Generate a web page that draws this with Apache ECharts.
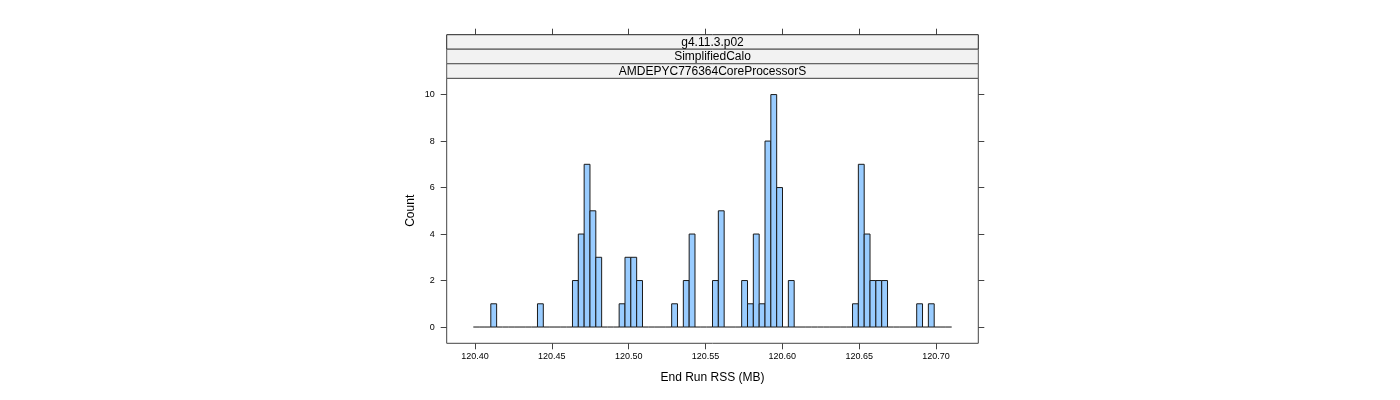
<!DOCTYPE html>
<html>
<head>
<meta charset="utf-8">
<script src="https://cdn.jsdelivr.net/npm/echarts@6/dist/echarts.min.js"></script>
<style>
html,body{margin:0;padding:0;background:#fff;}
#chart{width:1400px;height:400px;}
</style>
</head>
<body>
<div id="chart"></div>
<script>
// ---- data ----
const binOrigin = 120.39889;      // left edge of first bin
const binWidth = 0.0037966;       // width of each bin
const counts = [
  0,0,0,1,0,0,0,0,0,0,
  0,1,0,0,0,0,0,2,4,7,
  5,3,0,0,0,1,3,3,2,0,
  0,0,0,0,1,0,2,4,0,0,
  0,2,5,0,0,0,2,1,4,1,
  8,10,6,0,2,0,0,0,0,0,
  0,0,0,0,0,1,7,4,2,2,
  2,0,0,0,0,0,1,0,1,0,
  0,0
];
const xTicks = [120.40, 120.45, 120.50, 120.55, 120.60, 120.65, 120.70];
const yTicks = [0, 2, 4, 6, 8, 10];
const stripLabels = ['g4.11.3.p02', 'SimplifiedCalo', 'AMDEPYC776364CoreProcessorS'];
const xTitle = 'End Run RSS (MB)';
const yTitle = 'Count';

// ---- build ----
const bins = counts.map((c, i) => [binOrigin + i * binWidth, binOrigin + (i + 1) * binWidth, c]);

const FONT = 'Liberation Sans, Arial, sans-serif';
const AX = '#444';
const gridL = 446.7, gridR = 978.3, gridT = 78.3, gridB = 343.3;
const stripH = (gridT - 34.7) / 3;

const chart = echarts.init(document.getElementById('chart'));

const graphics = [];
stripLabels.forEach((s, k) => {
  const y0 = 34.7 + k * stripH;
  graphics.push({
    type: 'rect', z: 10,
    shape: { x: gridL, y: y0, width: gridR - gridL, height: stripH },
    style: { fill: '#F2F2F2', stroke: k === 0 ? '#222' : '#555', lineWidth: 1 }
  });
  graphics.push({
    type: 'text', z: 11,
    style: {
      text: s, x: (gridL + gridR) / 2, y: y0 + stripH / 2 + 0.5,
      align: 'center', verticalAlign: 'middle',
      font: '12px ' + FONT, fill: '#000'
    }
  });
});
graphics.push({
  type: 'text',
  style: { text: xTitle, x: (gridL + gridR) / 2, y: 378, align: 'center', verticalAlign: 'middle', font: '12px ' + FONT, fill: '#000' }
});
graphics.push({
  type: 'text', x: 410.5, y: (gridT + gridB) / 2, rotation: Math.PI / 2,
  style: { text: yTitle, x: 0, y: 0, align: 'center', verticalAlign: 'middle', font: '12px ' + FONT, fill: '#000' }
});

const tickStyle = { show: true, inside: false, length: 6, lineStyle: { color: AX, width: 1 } };

const option = {
  animation: false,
  backgroundColor: '#fff',
  grid: {
    left: gridL, right: 1400 - gridR, top: gridT, bottom: 400 - gridB,
    show: true, borderColor: AX, borderWidth: 1, containLabel: false
  },
  xAxis: [
    {
      type: 'value', position: 'bottom',
      min: 120.38158, max: 120.72752,
      axisLine: { show: false, onZero: false },
      axisTick: Object.assign({ customValues: xTicks }, tickStyle),
      axisLabel: {
        customValues: xTicks, margin: 9, fontSize: 9, fontFamily: FONT, color: '#000',
        formatter: v => v.toFixed(2)
      },
      splitLine: { show: false }
    },
    {
      type: 'value', position: 'top', offset: gridT - 34.7,
      min: 120.38158, max: 120.72752,
      axisLine: { show: false, onZero: false },
      axisTick: Object.assign({ customValues: xTicks }, tickStyle),
      axisLabel: { show: false },
      splitLine: { show: false }
    }
  ],
  yAxis: [
    {
      type: 'value', position: 'left',
      min: -0.7, max: 10.7,
      axisLine: { show: false, onZero: false },
      axisTick: Object.assign({ customValues: yTicks }, tickStyle),
      axisLabel: { customValues: yTicks, margin: 12, fontSize: 9, fontFamily: FONT, color: '#000' },
      splitLine: { show: false }
    },
    {
      type: 'value', position: 'right',
      min: -0.7, max: 10.7,
      axisLine: { show: false, onZero: false },
      axisTick: Object.assign({ customValues: yTicks }, tickStyle),
      axisLabel: { show: false },
      splitLine: { show: false }
    }
  ],
  series: [{
    type: 'custom',
    xAxisIndex: 0, yAxisIndex: 0,
    data: bins,
    encode: { x: [0, 1], y: 2 },
    renderItem: function (params, api) {
      const x0 = api.value(0), x1 = api.value(1), c = api.value(2);
      const pTop = api.coord([x0, c]);
      const pBase = api.coord([x1, 0]);
      if (c === 0) {
        return {
          type: 'line',
          shape: { x1: pTop[0], y1: pBase[1], x2: pBase[0], y2: pBase[1] },
          style: { stroke: '#111', lineWidth: 1 }
        };
      }
      return {
        type: 'rect',
        shape: { x: pTop[0], y: pTop[1], width: pBase[0] - pTop[0], height: pBase[1] - pTop[1] },
        style: { fill: '#99CCFF', stroke: '#1a1a1a', lineWidth: 1 }
      };
    }
  }],
  graphic: graphics
};
chart.setOption(option);
</script>
</body>
</html>
